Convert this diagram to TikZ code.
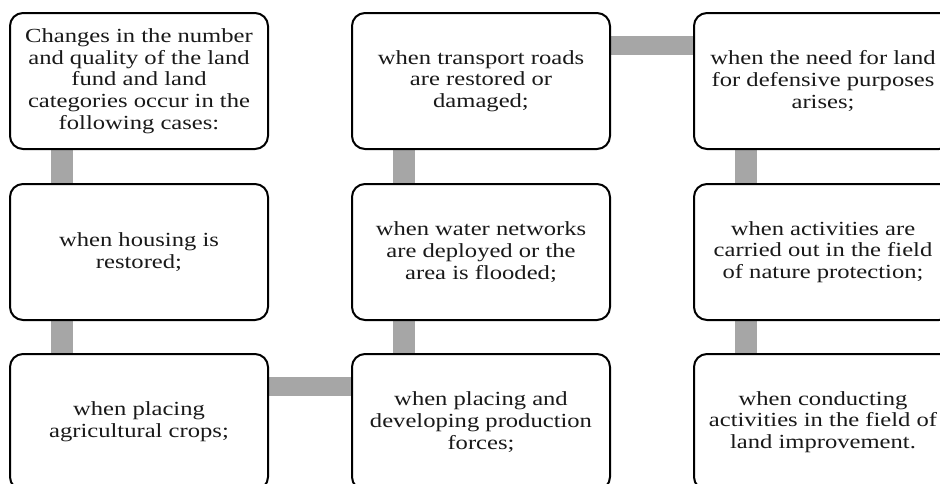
\documentclass[tikz,border=0pt]{standalone}
\usepackage{fontspec}
\setmainfont{Liberation Serif}[FakeStretch=1.23]
\usetikzlibrary{backgrounds}
\begin{document}
\begin{tikzpicture}[x=1pt,y=-1pt,
  box/.style={draw=black,line width=2pt,rounded corners=13pt,fill=white,
    minimum width=258pt,minimum height=136pt,inner sep=0pt,align=center,
    anchor=north west,font=\fontsize{20}{21.7}\selectfont,text=black!90},
  conn/.style={draw=black!35,line width=22pt},
  hconn/.style={draw=black!35,line width=19pt}]
\useasboundingbox (0,0) rectangle (940,483);
\clip (0,0) rectangle (940,483);
\node[box] (a1) at (9,12) {Changes in the number\\and quality of the land\\fund and land\\categories occur in the\\following cases:};
\node[box] (a2) at (9,183) {when housing is\\restored;};
\node[box] (a3) at (9,353) {when placing\\agricultural crops;};
\node[box] (b1) at (351,12) {when transport roads\\are restored or\\damaged;};
\node[box] (b2) at (351,183) {when water networks\\are deployed or the\\area is flooded;};
\node[box] (b3) at (351,353) {when placing and\\developing production\\forces;};
\node[box] (c1) at (693,12) {when the need for land\\for defensive purposes\\arises;};
\node[box] (c2) at (693,183) {when activities are\\carried out in the field\\of nature protection;};
\node[box] (c3) at (693,353) {when conducting\\activities in the field of\\land improvement.};
\begin{scope}[on background layer]
\draw[conn] ([xshift=52.5pt]a1.south west) -- ([xshift=52.5pt]a2.north west);
\draw[conn] ([xshift=52.5pt]a2.south west) -- ([xshift=52.5pt]a3.north west);
\draw[hconn] ([yshift=-33.5pt]a3.north east) -- ([yshift=-33.5pt]b3.north west);
\draw[conn] ([xshift=52.5pt]b3.north west) -- ([xshift=52.5pt]b2.south west);
\draw[conn] ([xshift=52.5pt]b2.north west) -- ([xshift=52.5pt]b1.south west);
\draw[hconn] ([yshift=-33.5pt]b1.north east) -- ([yshift=-33.5pt]c1.north west);
\draw[conn] ([xshift=52.5pt]c1.south west) -- ([xshift=52.5pt]c2.north west);
\draw[conn] ([xshift=52.5pt]c2.south west) -- ([xshift=52.5pt]c3.north west);
\end{scope}
\end{tikzpicture}
\end{document}
